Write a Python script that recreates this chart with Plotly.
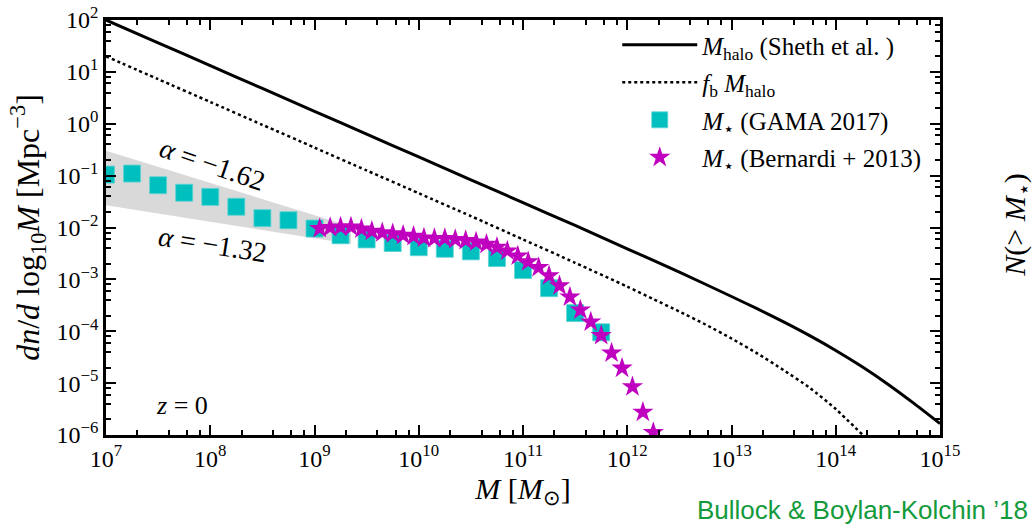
import numpy as np
import plotly.graph_objects as go

# ---------------- data (log10 values) ----------------
halo_logM = [7.0, 7.5, 8.0, 8.5, 9.0, 9.5, 10.0, 10.5, 11.0, 11.5, 12.0, 12.5,
             13.0, 13.25, 13.5, 13.75, 14.0, 14.25, 14.5, 14.75, 15.0]
halo_logn = [2.00, 1.56, 1.12, 0.68, 0.24, -0.20, -0.64, -1.08, -1.52, -1.96,
             -2.41, -2.86, -3.33, -3.57, -3.82, -4.085, -4.37, -4.68, -5.02,
             -5.39, -5.78]

fb_logM = [7.0, 7.5, 8.0, 8.5, 9.0, 9.5, 10.0, 10.5, 11.0, 11.5, 12.0, 12.25,
           12.5, 12.75, 13.0, 13.25, 13.5, 13.75, 14.0, 14.26]
fb_logn = [1.30, 0.86, 0.42, -0.02, -0.46, -0.90, -1.34, -1.78, -2.23, -2.68,
           -3.14, -3.38, -3.62, -3.87, -4.14, -4.43, -4.75, -5.09, -5.50, -6.00]

band_logM = [7.0, 7.5, 8.0, 8.5, 9.0, 9.35]
band_upper = [-0.52, -0.83, -1.14, -1.45, -1.76, -1.98]   # alpha = -1.62
band_lower = [-1.57, -1.73, -1.89, -2.05, -2.21, -2.32]   # alpha = -1.32

gama_logM = [7.0, 7.25, 7.5, 7.75, 8.0, 8.25, 8.5, 8.75, 9.0, 9.25, 9.5, 9.75,
             10.0, 10.25, 10.5, 10.75, 11.0, 11.25, 11.5, 11.75]
gama_logn = [-0.98, -0.96, -1.185, -1.33, -1.41, -1.60, -1.82, -1.86, -2.02,
             -2.15, -2.23, -2.30, -2.38, -2.41, -2.46, -2.59, -2.82, -3.17,
             -3.65, -4.02]

bern_logM = [9.05, 9.15, 9.25, 9.35, 9.45, 9.55, 9.65, 9.75, 9.85, 9.95, 10.05,
             10.15, 10.25, 10.35, 10.45, 10.55, 10.65, 10.75, 10.85, 10.95,
             11.05, 11.15, 11.25, 11.35, 11.45, 11.55, 11.65, 11.75, 11.85,
             11.95, 12.05, 12.15, 12.25]
bern_logn = [-2.02, -2.00, -1.99, -1.99, -2.03, -2.07, -2.10, -2.12, -2.15,
             -2.17, -2.20, -2.21, -2.21, -2.23, -2.25, -2.28, -2.32, -2.38,
             -2.45, -2.55, -2.66, -2.77, -2.93, -3.12, -3.34, -3.59, -3.82,
             -4.08, -4.42, -4.71, -5.07, -5.56, -5.95]

x_tick_exp = [7, 8, 9, 10, 11, 12, 13, 14, 15]
y_tick_exp = [-6, -5, -4, -3, -2, -1, 0, 1, 2]
minor_mult = [2, 4, 6, 8]

# ---------------- helpers ----------------
def lin(v):
    return (10.0 ** np.asarray(v, dtype=float)).tolist()

def exp_label(e):
    s = str(e).replace("-", "\u2212")
    return f"10<sup>{s}</sup>"

FONT = "Liberation Serif"

fig = go.Figure()

# grey band between the two faint-end slopes
fig.add_trace(go.Scatter(x=lin(band_logM), y=lin(band_upper), mode="lines",
                         line=dict(width=0, color="rgba(0,0,0,0)"),
                         showlegend=False, hoverinfo="skip"))
fig.add_trace(go.Scatter(x=lin(band_logM), y=lin(band_lower), mode="lines",
                         line=dict(width=0, color="rgba(0,0,0,0)"),
                         fill="tonexty", fillcolor="#d9d9d9",
                         showlegend=False, hoverinfo="skip"))

fig.add_trace(go.Scatter(x=lin(halo_logM), y=lin(halo_logn), mode="lines",
                         line=dict(color="black", width=3, shape="spline", smoothing=0.6),
                         name="<i>M</i><sub>halo</sub> (Sheth et al. )",
                         legendgroup="a"))
fig.add_trace(go.Scatter(x=lin(fb_logM), y=lin(fb_logn), mode="lines",
                         line=dict(color="black", width=2.5, dash="3px,3px",
                                   shape="spline", smoothing=0.6),
                         name="<i>f</i><sub>b</sub> <i>M</i><sub>halo</sub>",
                         legendgroup="b"))
fig.add_trace(go.Scatter(x=lin(gama_logM), y=lin(gama_logn), mode="markers",
                         marker=dict(symbol="square", size=17, color="#00bfbf",
                                     line=dict(width=0.8, color="#5fd3d3")),
                         name="<i>M</i><sub>\u22c6</sub> (GAMA 2017)",
                         legendgroup="c"))
fig.add_trace(go.Scatter(x=lin(bern_logM), y=lin(bern_logn), mode="markers",
                         marker=dict(symbol="star", size=16, color="#bf00bf",
                                     line=dict(width=0)),
                         name="<i>M</i><sub>\u22c6</sub> (Bernardi + 2013)",
                         legendgroup="d"))

minor_x = [e + np.log10(m) for e in x_tick_exp[:-1] for m in minor_mult]
minor_y = [e + np.log10(m) for e in y_tick_exp[:-1] for m in minor_mult]

axis_common = dict(
    showline=True, linecolor="black", linewidth=2.5, mirror="ticks",
    ticks="inside", ticklen=10, tickwidth=2, tickcolor="black",
    showgrid=False, zeroline=False, automargin=False,
    tickfont=dict(family=FONT, size=24, color="black"),
)

fig.update_xaxes(type="log", range=[7, 15], tickmode="array",
                 tickvals=lin(x_tick_exp), ticktext=[exp_label(e) for e in x_tick_exp],
                 minor=dict(tickmode="array", tickvals=lin(minor_x), ticks="inside",
                            ticklen=5, tickwidth=1.5, tickcolor="black", showgrid=False),
                 title=dict(text="<i>M</i> [<i>M</i><sub>\u2299</sub>]",
                            font=dict(family=FONT, size=30, color="black"),
                            standoff=2),
                 **axis_common)
fig.update_yaxes(type="log", range=[-6, 2], tickmode="array",
                 tickvals=lin(y_tick_exp), ticktext=[exp_label(e) for e in y_tick_exp],
                 minor=dict(tickmode="array", tickvals=lin(minor_y), ticks="inside",
                            ticklen=5, tickwidth=1.5, tickcolor="black", showgrid=False),
                 title=dict(text="<i>dn</i>/<i>d</i> log<sub>10</sub><i>M</i> [Mpc<sup>\u22123</sup>]",
                            font=dict(family=FONT, size=32, color="black"),
                            standoff=8),
                 **axis_common)

fig.update_layout(
    width=1036, height=527,
    margin=dict(l=106, r=96, t=20, b=92),
    paper_bgcolor="white", plot_bgcolor="white",
    font=dict(family=FONT, color="black"),
    legend=dict(x=0.613, y=0.995, xanchor="left", yanchor="top",
                bgcolor="rgba(0,0,0,0)", borderwidth=0,
                font=dict(family=FONT, size=25, color="black"),
                tracegroupgap=2, itemwidth=75),
    annotations=[
        dict(text="<i>\u03b1</i> = \u22121.62", x=0.128, y=0.653, xref="paper", yref="paper",
             xanchor="center", yanchor="middle",
             showarrow=False, textangle=19, font=dict(family=FONT, size=28, color="black")),
        dict(text="<i>\u03b1</i> = \u22121.32", x=0.128, y=0.458, xref="paper", yref="paper",
             xanchor="center", yanchor="middle",
             showarrow=False, textangle=9, font=dict(family=FONT, size=28, color="black")),
        dict(text="<i>z</i> = 0", x=0.091, y=0.072, xref="paper", yref="paper",
             xanchor="center", yanchor="middle",
             showarrow=False, font=dict(family=FONT, size=26, color="black")),
        dict(text="<i>N</i>(&gt; <i>M</i><sub>\u22c6</sub>)", x=1.092, y=0.506,
             xref="paper", yref="paper", xanchor="center", yanchor="middle",
             showarrow=False, textangle=-90,
             font=dict(family=FONT, size=30, color="black")),
        dict(text="Bullock &amp; Boylan-Kolchin \u201918", x=1.108, y=-0.181,
             xref="paper", yref="paper", xanchor="right", yanchor="middle",
             showarrow=False, font=dict(family="Liberation Sans", size=26, color="#129a3c")),
    ],
)

fig.write_html("out.html")
